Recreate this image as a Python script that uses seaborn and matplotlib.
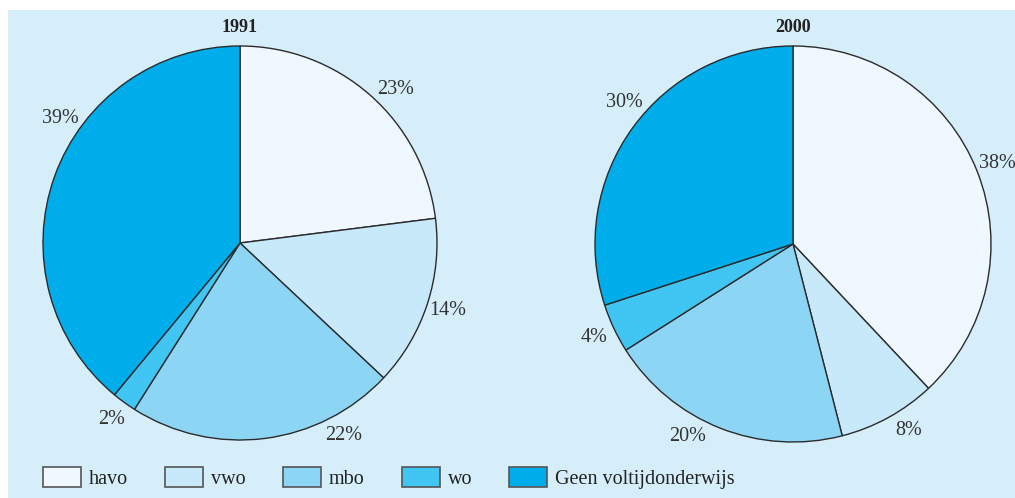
import numpy as np
import matplotlib
matplotlib.use("Agg")
import matplotlib.pyplot as plt
from matplotlib.patches import Rectangle, Patch
import seaborn as sns

# data (percentages, clockwise from 12 o'clock)
categories = ["havo", "vwo", "mbo", "wo", "Geen voltijdonderwijs"]
years = ["1991", "2000"]
share_1991 = [23, 14, 22, 2, 39]
share_2000 = [38, 8, 20, 4, 30]

colors = ["#eff8fe", "#c7e9f9", "#8dd5f5", "#41c5f2", "#00adeb"]
bg = "#d6eefa"

# small angle nudges for the % labels (degrees), layout only
label_shift = {"1991": [-4, 0, 21, 0, -15], "2000": [0, 3, -7, 0, -4]}

sns.set_theme(style="white")
plt.rcParams['font.family'] = ['Liberation Serif', 'DejaVu Serif']

W, H = 1015, 498
fig = plt.figure(figsize=(W / 100, H / 100), dpi=100, facecolor="white")
pal = sns.color_palette(colors)

# light blue panel
fig.patches.append(Rectangle((8 / W, 0), (W - 8) / W, (H - 10) / H,
                             transform=fig.transFigure, facecolor=bg,
                             edgecolor="none", zorder=-10))

L = 1.35
pies = [(years[0], share_1991, 240, 243, 197),
        (years[1], share_2000, 793, 244, 198)]

for year, vals, cx, cy, r in pies:
    half = r * L
    ax = fig.add_axes([(cx - half) / W, 1 - (cy + half) / H, 2 * half / W, 2 * half / H])
    ax.set_zorder(5)
    wedges, _ = ax.pie(vals, colors=pal, startangle=90, counterclock=False, radius=1,
                       wedgeprops=dict(edgecolor="#2b2b2b", linewidth=1.0))
    ax.set_xlim(-L, L)
    ax.set_ylim(-L, L)
    ax.set_aspect("equal")
    ax.axis("off")
    for w, v, s in zip(wedges, vals, label_shift[year]):
        ang = np.deg2rad((w.theta1 + w.theta2) / 2 + s)
        ax.text(1.11 * np.cos(ang), 1.11 * np.sin(ang), f"{v}%", ha="center", va="center",
                fontsize=14.5, color="#333333")
    fig.text(cx / W, 1 - 28 / H, year, ha="center", va="center", fontsize=13,
             fontweight="bold", color="#222222")

handles = [Patch(facecolor=c, edgecolor="#555555", linewidth=1.2) for c in colors]
fs = 14.5
px = fs * 100 / 72
fig.legend(handles, categories, loc="center left", bbox_to_anchor=(43 / W, 1 - 478 / H),
           ncol=5, frameon=False, fontsize=fs, borderpad=0, borderaxespad=0,
           handlelength=38 / px, handleheight=23 / px, handletextpad=8 / px,
           columnspacing=37 / px, labelcolor="#222222")

fig.savefig("out.png", dpi=100)
